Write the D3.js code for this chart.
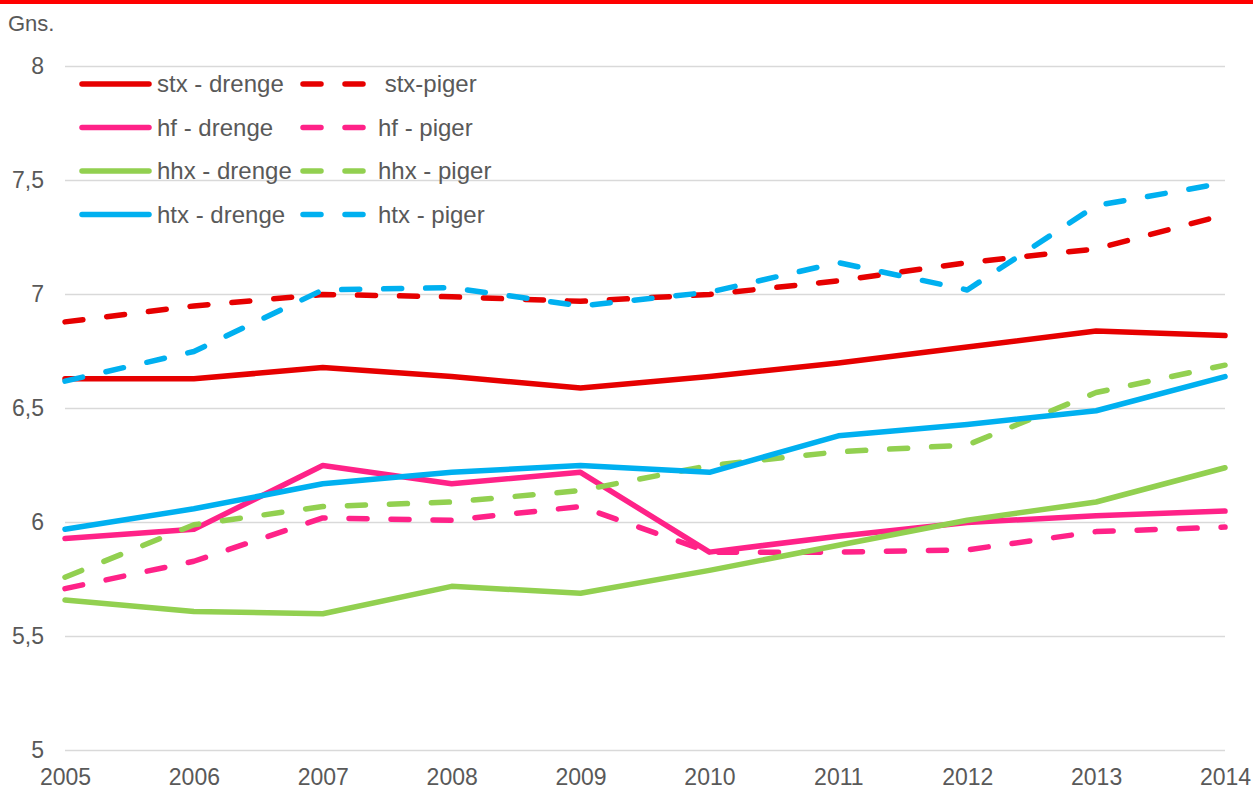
<!DOCTYPE html>
<html>
<head>
<meta charset="utf-8">
<script src="https://cdn.jsdelivr.net/npm/d3@7"></script>
<style>
  body { margin: 0; background: #fff; }
  svg { display: block; font-family: "Liberation Sans", Arial, sans-serif; }
</style>
</head>
<body>
<div id="chart"></div>
<script>
// years on the x axis
const years = [2005, 2006, 2007, 2008, 2009, 2010, 2011, 2012, 2013, 2014];
const yTicks = [5, 5.5, 6, 6.5, 7, 7.5, 8];

// average grade per series
const stxDrenge = [6.63, 6.63, 6.68, 6.64, 6.59, 6.64, 6.70, 6.77, 6.84, 6.82];
const stxPiger  = [6.88, 6.95, 7.00, 6.99, 6.97, 7.00, 7.06, 7.14, 7.20, 7.35];
const hfDrenge  = [5.93, 5.97, 6.25, 6.17, 6.22, 5.87, 5.94, 6.00, 6.03, 6.05];
const hfPiger   = [5.71, 5.83, 6.02, 6.01, 6.07, 5.87, 5.87, 5.88, 5.96, 5.98];
const hhxDrenge = [5.66, 5.61, 5.60, 5.72, 5.69, 5.79, 5.90, 6.01, 6.09, 6.24];
const hhxPiger  = [5.76, 5.99, 6.07, 6.09, 6.14, 6.25, 6.31, 6.34, 6.57, 6.69];
const htxDrenge = [5.97, 6.06, 6.17, 6.22, 6.25, 6.22, 6.38, 6.43, 6.49, 6.64];
const htxPiger  = [6.62, 6.75, 7.02, 7.03, 6.95, 7.01, 7.14, 7.02, 7.39, 7.49];

const series = [
  { name: "stx - drenge", values: stxDrenge, color: "#e60000", dashed: false },
  { name: " stx-piger",   values: stxPiger,  color: "#e60000", dashed: true },
  { name: "hf - drenge",  values: hfDrenge,  color: "#ff2288", dashed: false },
  { name: "hf - piger",   values: hfPiger,   color: "#ff2288", dashed: true },
  { name: "hhx - drenge", values: hhxDrenge, color: "#92d050", dashed: false },
  { name: "hhx - piger",  values: hhxPiger,  color: "#92d050", dashed: true },
  { name: "htx - drenge", values: htxDrenge, color: "#00b0f0", dashed: false },
  { name: "htx - piger",  values: htxPiger,  color: "#00b0f0", dashed: true }
];

const W = 1253, H = 789;
const dash = "18,24";

const svg = d3.select("#chart").append("svg")
  .attr("width", W)
  .attr("height", H);

// red title bar (text cut off at top)
svg.append("rect")
  .attr("x", 0).attr("y", 0)
  .attr("width", W).attr("height", 4)
  .attr("fill", "#ff0000");

const x = d3.scalePoint().domain(years).range([65, 1225]);
const y = d3.scaleLinear().domain([5, 8]).range([750.5, 66.5]);

// gridlines
svg.append("g")
  .selectAll("line")
  .data(yTicks)
  .enter()
  .append("line")
  .attr("x1", 65).attr("x2", 1225)
  .attr("y1", d => y(d)).attr("y2", d => y(d))
  .attr("stroke", "#d9d9d9")
  .attr("stroke-width", 1.5);

// y axis labels
const fmt = d => String(d).replace(".", ",");
const yAxis = d3.axisLeft(y).tickValues(yTicks).tickFormat(fmt).tickSize(0).tickPadding(0);
const gy = svg.append("g")
  .attr("transform", "translate(44,0)")
  .call(yAxis);
gy.select(".domain").remove();
gy.selectAll("text")
  .attr("font-size", 23)
  .attr("font-family", "Liberation Sans, Arial, sans-serif")
  .attr("fill", "#595959");

// x axis labels
const xAxis = d3.axisBottom(x).tickSize(0).tickPadding(0);
const gx = svg.append("g")
  .attr("transform", "translate(0,769)")
  .call(xAxis);
gx.select(".domain").remove();
gx.selectAll("text")
  .attr("font-size", 23)
  .attr("font-family", "Liberation Sans, Arial, sans-serif")
  .attr("fill", "#595959");

svg.append("text")
  .attr("x", 8).attr("y", 31)
  .attr("font-size", 22)
  .attr("fill", "#595959")
  .text("Gns.");

// lines
const line = d3.line()
  .x((d, i) => x(years[i]))
  .y(d => y(d));

svg.append("g")
  .selectAll("path")
  .data(series)
  .enter()
  .append("path")
  .attr("d", d => line(d.values))
  .attr("fill", "none")
  .attr("stroke", d => d.color)
  .attr("stroke-width", 5.5)
  .attr("stroke-linecap", "round")
  .attr("stroke-linejoin", "round")
  .attr("stroke-dasharray", d => d.dashed ? dash : null);

// legend: two columns, four rows
const legend = svg.append("g").attr("class", "legend");
const rowY = [84, 127.5, 171, 214.5];
const items = legend.selectAll("g")
  .data(series)
  .enter()
  .append("g")
  .attr("transform", (d, i) => {
    const col = i % 2, row = Math.floor(i / 2);
    return `translate(${col === 0 ? 82 : 303},${rowY[row]})`;
  });

items.append("line")
  .attr("x1", 0).attr("x2", d => d.dashed ? 64 : 67)
  .attr("y1", 0).attr("y2", 0)
  .attr("stroke", d => d.color)
  .attr("stroke-width", 5.5)
  .attr("stroke-linecap", "round")
  .attr("stroke-dasharray", d => d.dashed ? dash : null);

items.append("text")
  .attr("x", 75)
  .attr("y", 8)
  .attr("font-size", 24)
  .attr("fill", "#595959")
  .attr("xml:space", "preserve")
  .style("white-space", "pre")
  .text(d => d.name);
</script>
</body>
</html>
